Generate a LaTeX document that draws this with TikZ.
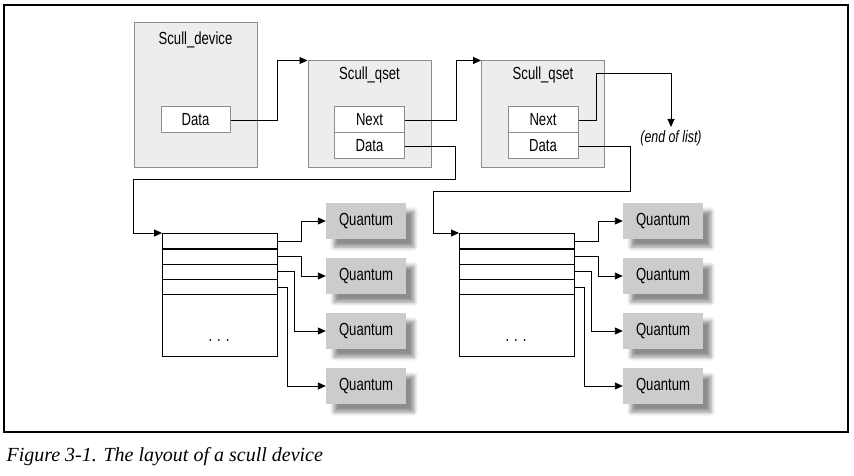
\documentclass[tikz,border=0pt]{standalone}
\usepackage{fontspec}
\setmainfont{Liberation Serif}
\newfontfamily\condsans[FakeStretch=0.75]{Liberation Sans}
\usetikzlibrary{arrows.meta,shadows.blur}
\begin{document}
\begin{tikzpicture}[x=1pt,y=-1pt,font=\condsans\fontsize{17.5}{20}\selectfont,
  panel/.style={draw=black!45,fill=black!7,line width=1pt,inner sep=0pt},
  cell/.style={draw=black!45,fill=white,line width=1pt,inner sep=0pt,minimum width=70,minimum height=26},
  table/.style={draw,line width=1pt,inner sep=0pt,minimum width=115,minimum height=123},
  row/.style={draw,line width=1.3pt,inner sep=0pt,minimum width=115,minimum height=15.25},
  quantum/.style={fill=black!20,inner sep=0pt,minimum width=80,minimum height=36,
    blur shadow={shadow xshift=8pt,shadow yshift=-8pt,shadow blur radius=4pt,shadow opacity=45}},
  link/.style={line width=0.9pt,-{Triangle[length=8pt,width=7pt]}}]
\useasboundingbox (0,0) rectangle (854,476);
\draw[line width=1.6pt] (4,5) rectangle (848,432);
\node[panel,minimum width=123,minimum height=144] (dev) at (195.5,95) {};
\node (devname) at (195.5,40) {Scull\_device};
\node[cell,minimum width=69] (devdata) at (195.5,120) {Data};
\foreach \n/\x in {1/369.5,2/543} {
  \node[panel,minimum width=123,minimum height=106] (qset\n) at (\x,114) {};
  \node (qsetname\n) at (\x,75) {Scull\_qset};
  \node[cell] (next\n) at (\x,120) {Next};
  \node[cell] (data\n) at (\x,146) {Data};
}
\node[anchor=north,font=\condsans\itshape\fontsize{16.5}{18}\selectfont] (eol) at (671,127) {(end of list)};
\coordinate (eolbend) at (671,73);
\coordinate (bend1) at (133,179);
\coordinate (bend2) at (433,191);
\foreach \t/\x in {1/162,2/459} {
  \node[table,anchor=north west] (tab\t) at (\x,233) {};
  \node[anchor=base] (dots\t) at (\x+57,341) {.\hspace{5pt}.\hspace{5pt}.};
  \foreach \r/\d in {1/23,2/23,3/16,4/9} {
    \node[row,anchor=north west] (row\t\r) at (\x,217.75+15.25*\r) {};
    \node[quantum] (q\t\r) at (\x+204,166+55*\r) {Quantum};
    \draw[link] (row\t\r.east) -- ++(\d,0) |- (q\t\r.west);
  }
}
\draw[link] (devdata.east) -- ++(47,0) |- (qset1.north west);
\draw[link] (next1.east) -- ++(51,0) |- (qset2.north west);
\draw[link] (next2.east) -- ++(18,0) |- (eolbend) -- (eol.north);
\draw[link] (data1.east) -- ++(50,0) |- (bend1) |- (tab1.north west);
\draw[link] (data2.east) -- ++(52,0) |- (bend2) |- (tab2.north west);
\node[anchor=base west,font=\rmfamily\itshape\fontsize{20}{24}\selectfont] (caption) at (3,461) {Figure 3-1. The layout of a scull device};
\end{tikzpicture}
\end{document}
